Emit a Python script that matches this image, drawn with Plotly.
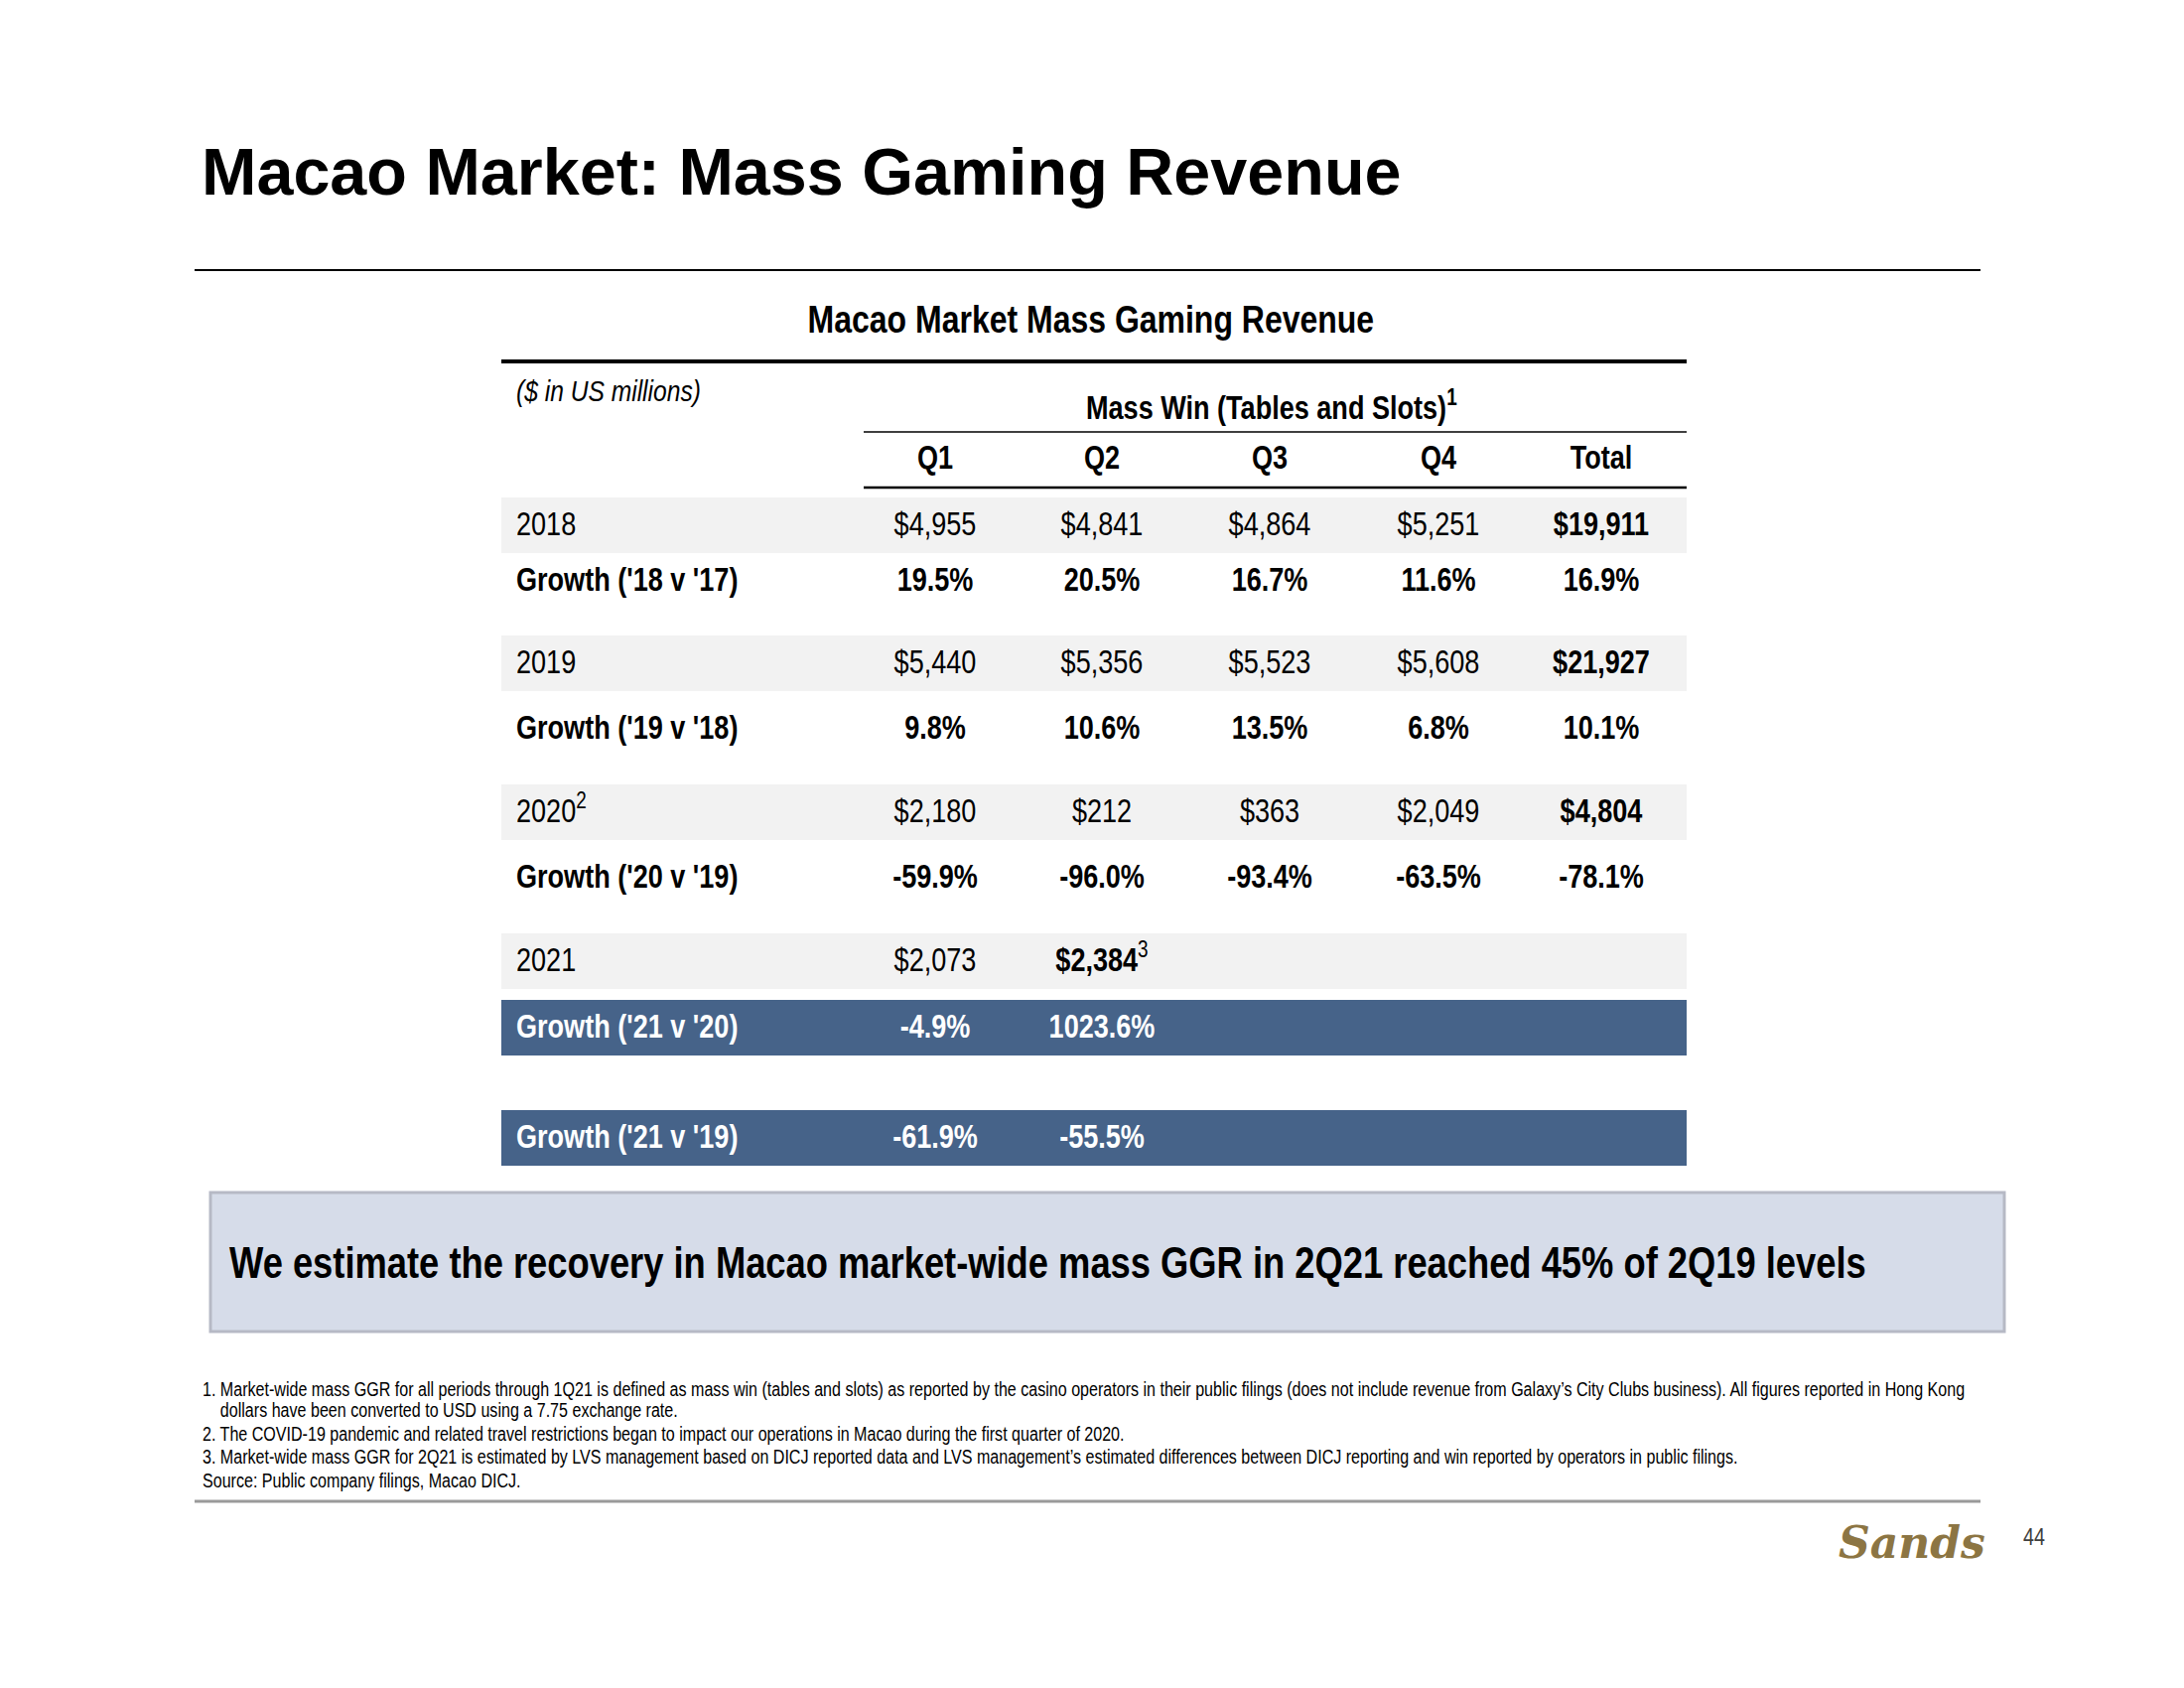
import plotly.graph_objects as go

# ---------------- data ----------------
columns = ["Q1", "Q2", "Q3", "Q4", "Total"]
rev_2018 = [4955, 4841, 4864, 5251, 19911]
growth_18_17 = [19.5, 20.5, 16.7, 11.6, 16.9]
rev_2019 = [5440, 5356, 5523, 5608, 21927]
growth_19_18 = [9.8, 10.6, 13.5, 6.8, 10.1]
rev_2020 = [2180, 212, 363, 2049, 4804]
growth_20_19 = [-59.9, -96.0, -93.4, -63.5, -78.1]
rev_2021 = [2073, 2384]
growth_21_20 = [-4.9, 1023.6]
growth_21_19 = [-61.9, -55.5]

row_labels = ["2018", "Growth ('18 v '17)", "2019", "Growth ('19 v '18)",
              "2020<sup>2</sup>", "Growth ('20 v '19)", "2021",
              "Growth ('21 v '20)", "Growth ('21 v '19)"]

title = "Macao Market: Mass Gaming Revenue"
subtitle = "Macao Market Mass Gaming Revenue"
units = "($ in US millions)"
group_header = "Mass Win (Tables and Slots)<sup>1</sup>"
callout = "We estimate the recovery in Macao market-wide mass GGR in 2Q21 reached 45% of 2Q19 levels"
footnotes = [
    "1. Market-wide mass GGR for all periods through 1Q21 is defined as mass win (tables and slots) as reported by the casino operators in their public filings (does not include revenue from Galaxy\u2019s City Clubs business). All figures reported in Hong Kong",
    "    dollars have been converted to USD using a 7.75 exchange rate.",
    "2. The COVID-19 pandemic and related travel restrictions began to impact our operations in Macao during the first quarter of 2020.",
    "3. Market-wide mass GGR for 2Q21 is estimated by LVS management based on DICJ reported data and LVS management\u2019s estimated differences between DICJ reporting and win reported by operators in public filings.",
    "Source: Public company filings, Macao DICJ.",
]
page_number = "44"

# ---------------- layout / style ----------------
W, H = 2200, 1700
NARROW = "Liberation Sans Narrow, Liberation Sans, Arial, sans-serif"
SANS = "Liberation Sans, Arial, sans-serif"
BLUE = "#466389"
GRAY_BG = "#F2F2F2"

tbl_x0, tbl_x1 = 505, 1699
col_x = [942, 1110, 1279, 1449, 1613]
label_x = 520
row_y = [529, 585, 668, 734, 818, 884, 968, 1035, 1146]
text_dy = 2
row_h = 56
row_bg = [GRAY_BG, None, GRAY_BG, None, GRAY_BG, None, GRAY_BG, BLUE, BLUE]
font_sz = 33


def money(v):
    return f"${v:,}"


def pct(v):
    return f"{v:.1f}%"


def b(s):
    return f"<b>{s}</b>"


cell_text = [
    [money(v) for v in rev_2018[:4]] + [b(money(rev_2018[4]))],
    [b(pct(v)) for v in growth_18_17],
    [money(v) for v in rev_2019[:4]] + [b(money(rev_2019[4]))],
    [b(pct(v)) for v in growth_19_18],
    [money(v) for v in rev_2020[:4]] + [b(money(rev_2020[4]))],
    [b(pct(v)) for v in growth_20_19],
    [money(rev_2021[0]), b(money(rev_2021[1])) + "<sup>3</sup>"],
    [b(pct(v)) for v in growth_21_20],
    [b(pct(v)) for v in growth_21_19],
]
label_bold = [False, True, False, True, False, True, False, True, True]

fig = go.Figure()
shapes = []
annotations = []

# row backgrounds
for y, bg in zip(row_y, row_bg):
    if bg:
        shapes.append(dict(type="rect", xref="x", yref="y", x0=tbl_x0, x1=tbl_x1,
                           y0=y - row_h / 2, y1=y + row_h / 2, fillcolor=bg,
                           line=dict(width=0), layer="below"))

# table cells
for i, (y, texts) in enumerate(zip(row_y, cell_text)):
    color = "white" if row_bg[i] == BLUE else "black"
    fig.add_trace(go.Scatter(
        x=col_x[:len(texts)], y=[y + text_dy] * len(texts), mode="text", text=texts,
        textposition="middle center", hoverinfo="skip", showlegend=False,
        textfont=dict(family=NARROW, size=font_sz, color=color)))
    lab = b(row_labels[i]) if label_bold[i] else row_labels[i]
    fig.add_trace(go.Scatter(
        x=[label_x], y=[y + text_dy], mode="text", text=[lab], textposition="middle right",
        hoverinfo="skip", showlegend=False,
        textfont=dict(family=NARROW, size=font_sz, color=color)))

# header
fig.add_trace(go.Scatter(
    x=col_x, y=[464] * len(columns), mode="text", text=[b(c) for c in columns],
    textposition="middle center", hoverinfo="skip", showlegend=False,
    textfont=dict(family=NARROW, size=font_sz, color="black")))

# lines
shapes += [
    dict(type="line", xref="x", yref="y", x0=196, x1=1995, y0=272, y1=272,
         line=dict(color="black", width=2)),
    dict(type="line", xref="x", yref="y", x0=tbl_x0, x1=tbl_x1, y0=364, y1=364,
         line=dict(color="black", width=4)),
    dict(type="line", xref="x", yref="y", x0=870, x1=tbl_x1, y0=435, y1=435,
         line=dict(color="black", width=1.5)),
    dict(type="line", xref="x", yref="y", x0=870, x1=tbl_x1, y0=491, y1=491,
         line=dict(color="black", width=2.5)),
    dict(type="rect", xref="x", yref="y", x0=212, x1=2019, y0=1201, y1=1341,
         fillcolor="#D6DCE9", line=dict(color="#B6B9C5", width=3), layer="below"),
    dict(type="line", xref="x", yref="y", x0=196, x1=1995, y0=1512, y1=1512,
         line=dict(color="#9A9A9A", width=3)),
]


def ann(x, y, text, size, family=NARROW, color="black", xanchor="left", weight="normal", style="normal"):
    annotations.append(dict(x=x, y=y, xref="x", yref="y", text=text, showarrow=False,
                            xanchor=xanchor, yanchor="middle", align=xanchor if xanchor != "center" else "center",
                            font=dict(family=family, size=size, color=color, weight=weight, style=style)))


ann(201, 173, title, 66.5, family=SANS, weight="bold")
ann(1099, 321, subtitle, 39, xanchor="center", weight="bold")
ann(518, 393, units, 30, style="italic")
ann(1281, 408, group_header, 33, xanchor="center", weight="bold")
ann(229, 1271, callout, 44.3, weight="bold")
fy = [1399, 1420, 1444, 1467, 1491]
for y, t in zip(fy, footnotes):
    ann(202, y, t, 19.6)
ann(1926, 1553, "Sands", 44, family="DejaVu Serif", color="#8C7543", xanchor="center", weight="bold", style="italic")
ann(2036, 1547, page_number, 24, color="#404040")

fig.update_layout(
    width=W, height=H, margin=dict(l=0, r=0, t=0, b=0),
    paper_bgcolor="white", plot_bgcolor="white",
    xaxis=dict(range=[0, W], visible=False, fixedrange=True),
    yaxis=dict(range=[H, 0], visible=False, fixedrange=True),
    shapes=shapes, annotations=annotations,
)

# Page tweak: remove default body margin and condense "Narrow" text (Arial Narrow ~ 82% width)
post = """
(function(){
  document.body.style.margin='0';
  document.body.style.padding='0';
  function squash(){
    document.querySelectorAll('text').forEach(function(t){
      var ff=(t.style.fontFamily||'')+(t.getAttribute('font-family')||'');
      if(ff.indexOf('Narrow')<0) return;
      if(!t.dataset.origLen){ t.dataset.origLen=String(t.getComputedTextLength()); }
      var L=parseFloat(t.dataset.origLen);
      if(L>0){ t.setAttribute('textLength',(L*0.82).toFixed(2)); t.setAttribute('lengthAdjust','spacingAndGlyphs'); }
    });
  }
  squash();
  setTimeout(squash,30);
  setTimeout(squash,300);
})();
"""
fig.write_html("out.html", post_script=post, config={"displayModeBar": False})
